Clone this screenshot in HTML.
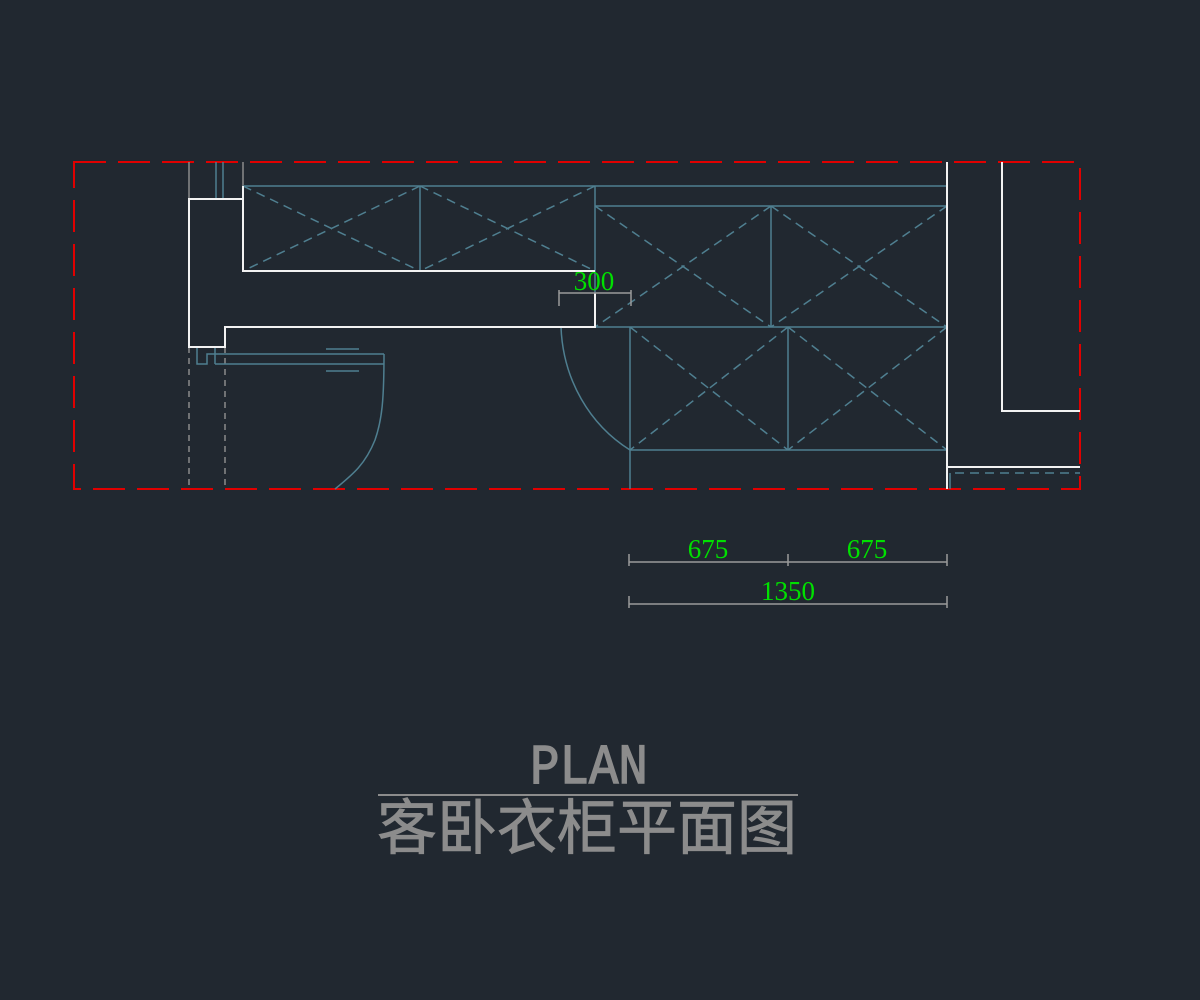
<!DOCTYPE html>
<html><head><meta charset="utf-8"><style>
html,body{margin:0;padding:0;background:#212830;}
svg{display:block}
</style></head><body>
<svg width="1200" height="1000" viewBox="0 0 1200 1000" xmlns="http://www.w3.org/2000/svg">
<rect width="1200" height="1000" fill="#212830"/>
<rect x="74" y="162" width="1006" height="327" fill="none" stroke="#e00000" stroke-width="2" stroke-dasharray="32,12"/>
<g stroke="#8a8a8a" stroke-width="1.5" fill="none">
<line x1="189" y1="162" x2="189" y2="199"/>
<line x1="243" y1="162" x2="243" y2="186"/>
<line x1="189" y1="347" x2="189" y2="489" stroke-dasharray="6,5"/>
<line x1="225" y1="347" x2="225" y2="489" stroke-dasharray="6,5"/>
</g>
<g stroke="#4f7f90" stroke-width="1.5" fill="none">
<line x1="216" y1="162" x2="216" y2="199"/>
<line x1="223" y1="162" x2="223" y2="199"/>
<line x1="243" y1="186" x2="947" y2="186"/>
<line x1="595" y1="206" x2="947" y2="206"/>
<line x1="420" y1="186" x2="420" y2="271"/>
<line x1="595" y1="186" x2="595" y2="327"/>
<line x1="771" y1="206" x2="771" y2="327"/>
<line x1="595" y1="327" x2="947" y2="327"/>
<line x1="630" y1="327" x2="630" y2="489"/>
<line x1="788" y1="327" x2="788" y2="450"/>
<line x1="630" y1="450" x2="947" y2="450"/>
<line x1="950" y1="473" x2="950" y2="489"/>
<polyline points="197,347 197,364 207,364 207,354 384,354"/>
<line x1="215" y1="364" x2="384" y2="364"/>
<line x1="215" y1="347" x2="215" y2="364"/>
<line x1="326" y1="349" x2="359" y2="349"/>
<line x1="326" y1="371" x2="359" y2="371"/>
<path d="M384,354 C384,400 382,420 375,440 C365,465 352,475 335,489"/>
<path d="M561,327 C563,380 590,425 630,450"/>
</g>
<g stroke="#4f7f90" stroke-width="1.5" fill="none" stroke-dasharray="9,6">
<line x1="243" y1="186" x2="420" y2="271"/><line x1="420" y1="186" x2="243" y2="271"/>
<line x1="420" y1="186" x2="595" y2="271"/><line x1="595" y1="186" x2="420" y2="271"/>
<line x1="595" y1="206" x2="771" y2="327"/><line x1="771" y1="206" x2="595" y2="327"/>
<line x1="771" y1="206" x2="947" y2="327"/><line x1="947" y1="206" x2="771" y2="327"/>
<line x1="630" y1="327" x2="788" y2="450"/><line x1="788" y1="327" x2="630" y2="450"/>
<line x1="788" y1="327" x2="947" y2="450"/><line x1="947" y1="327" x2="788" y2="450"/>
<line x1="955" y1="473" x2="1080" y2="473"/>
</g>
<g stroke="#f2f2f2" stroke-width="2" fill="none">
<polyline points="243,199 189,199 189,347 225,347 225,327 595,327 595,293"/>
<polyline points="243,186 243,271 595,271"/>
<line x1="947" y1="162" x2="947" y2="489"/>
<line x1="947" y1="467" x2="1080" y2="467"/>
<polyline points="1002,162 1002,411 1080,411"/>
</g>
<g stroke="#9a9a9a" stroke-width="1.5" fill="none">
<line x1="559" y1="293" x2="631" y2="293"/>
<line x1="559" y1="290" x2="559" y2="306"/>
<line x1="631" y1="290" x2="631" y2="306"/>
<line x1="629" y1="562" x2="947" y2="562"/>
<line x1="629" y1="554" x2="629" y2="566"/>
<line x1="788" y1="554" x2="788" y2="566"/>
<line x1="947" y1="554" x2="947" y2="566"/>
<line x1="629" y1="604" x2="947" y2="604"/>
<line x1="629" y1="596" x2="629" y2="608"/>
<line x1="947" y1="596" x2="947" y2="608"/>
</g>
<g fill="#00e000" font-family="Liberation Serif, serif" font-size="27" text-anchor="middle">
<text x="594" y="290">300</text>
<text x="708" y="558">675</text>
<text x="867" y="558">675</text>
<text x="788" y="600">1350</text>
</g>
<text x="589" y="783" fill="#8c8c8c" stroke="#8c8c8c" stroke-width="1.5" font-family="Liberation Mono, monospace" font-size="57" text-anchor="middle" transform="translate(589 0) scale(0.86 1) translate(-589 0)">PLAN</text>
<line x1="378" y1="795" x2="798" y2="795" stroke="#8c8c8c" stroke-width="2"/>
<text x="587" y="849" fill="#8c8c8c" stroke="#8c8c8c" stroke-width="0.8" font-family="Liberation Sans, 'Noto Sans CJK SC', sans-serif" font-size="60" text-anchor="middle">客卧衣柜平面图</text>
</svg>
</body></html>
